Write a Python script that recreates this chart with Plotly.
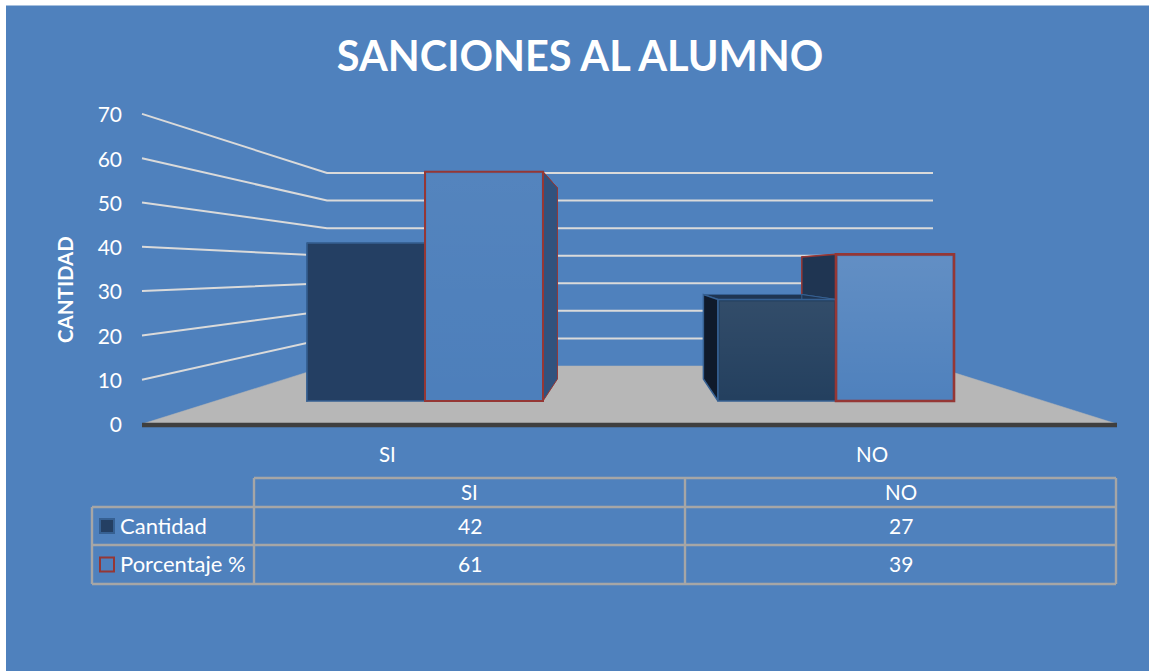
import plotly.graph_objects as go

categories = ["SI", "NO"]
cantidad = [42, 27]
porcentaje = [61, 39]
y_ticks = [0, 10, 20, 30, 40, 50, 60, 70]
title_text = "SANCIONES AL ALUMNO"
y_title = "CANTIDAD"
series_names = ["Cantidad", "Porcentaje %"]

W, H = 1149, 671
BG = "#4F81BD"
FONT = "Lato"
WHITE = "#FFFFFF"

# ---- scales (pixel geometry of the 3D box of the chart) ----
AXIS_ZERO, AXIS_UNIT = 424.0, 4.43      # left axis: pixel of 0, pixels per unit
BAR_ZERO, BAR_UNIT = 401.0, 3.76        # front plane of the bars
BOX_ZERO, BOX_UNIT = 379.0, 3.13        # back plane of the bars
WALL_ZERO, WALL_UNIT = 366.0, 2.757     # back wall
CAT_X0, CAT_STEP, BAR_W = 425.0, 411.0, 118.0
VANISH_X, DEPTH = 630.0, 0.834
WALL_L, WALL_R, FLOOR_L, FLOOR_R = 327.0, 933.0, 142.0, 1117.0


def py(pixel):
    return (AXIS_ZERO - pixel) / AXIS_UNIT


def back_x(x):
    return VANISH_X + (x - VANISH_X) * DEPTH


def face(xs, ys, color, line_color, line_w=1.0, name=""):
    return go.Scatter(x=xs, y=[py(v) for v in ys], mode="lines", fill="toself",
                      fillcolor=color, line=dict(color=line_color, width=line_w),
                      hoverinfo="skip", showlegend=False, name=name)


fig = go.Figure()

# floor
fig.add_trace(face([FLOOR_L, WALL_L, WALL_R, FLOOR_R, FLOOR_L],
                   [AXIS_ZERO, WALL_ZERO, WALL_ZERO, AXIS_ZERO, AXIS_ZERO],
                   "#B7B7B7", "#B7B7B7", 0.5, "floor"))

# gridlines on the left wall and back wall
gx, gy = [], []
for v in y_ticks[1:]:
    gx += [FLOOR_L, WALL_L, WALL_R, None]
    gy += [v, py(WALL_ZERO - WALL_UNIT * v), py(WALL_ZERO - WALL_UNIT * v), None]
fig.add_trace(go.Scatter(x=gx, y=gy, mode="lines", line=dict(color="#DADADA", width=2),
                         hoverinfo="skip", showlegend=False, name="grid"))

# front axis line
fig.add_trace(go.Scatter(x=[FLOOR_L, FLOOR_R], y=[-0.2, -0.2], mode="lines",
                         line=dict(color="#3F3F3F", width=4.5),
                         hoverinfo="skip", showlegend=False, name="axis"))

# side and top faces of the boxes, rear series first
series = [
    (porcentaje, 0, "#953735", "#1F3552", "#31527D", "#1F3552"),
    (cantidad, -1, "#366092", "#0F1A2B", "#1F3552", "#1F3552"),
]
for values, offset, edge, left_c, right_c, top_c in series:
    for i, v in enumerate(values):
        xl = CAT_X0 + CAT_STEP * i + offset * BAR_W
        xr = xl + BAR_W
        yf = BAR_ZERO - BAR_UNIT * v
        yb = BOX_ZERO - BOX_UNIT * v
        # top
        fig.add_trace(face([xl, back_x(xl), back_x(xr), xr, xl], [yf, yb, yb, yf, yf], top_c, edge))
        # left side
        fig.add_trace(face([xl, back_x(xl), back_x(xl), xl, xl],
                           [yf, yb, BOX_ZERO, BAR_ZERO, yf], left_c, edge, 1.5))
        # right side
        fig.add_trace(face([xr, back_x(xr), back_x(xr), xr, xr],
                           [yf, yb, BOX_ZERO, BAR_ZERO, yf], right_c, edge, 1.0))

# front faces as real bars
fig.add_trace(go.Bar(x=categories, y=cantidad, name=series_names[0], xaxis="x2", yaxis="y2",
                     marker=dict(color=["#243F63", "#24405F"], line=dict(color="#366092", width=1.5)),
                     showlegend=False))
fig.add_trace(go.Bar(x=categories, y=porcentaje, name=series_names[1], xaxis="x2", yaxis="y2",
                     marker=dict(color=["#4D7FBB", "#4F81BD"],
                                 line=dict(color="#953735", width=[2, 2.6])),
                     showlegend=False))

# soft sheen over the front faces (top of the face lighter than its foot)
sheen = [(cantidad, 1, -1, 0.065), (porcentaje, 0, 0, 0.04), (porcentaje, 1, 0, 0.11)]
for values, i, offset, alpha in sheen:
    xl = CAT_X0 + CAT_STEP * i + offset * BAR_W + 2
    xr = xl + BAR_W - 4
    yt = py(BAR_ZERO - BAR_UNIT * values[i] + 2)
    yb = py(BAR_ZERO - 2)
    fig.add_trace(go.Scatter(
        x=[xl, xr, xr, xl, xl], y=[yt, yt, yb, yb, yt], mode="lines", xaxis="x3", yaxis="y3",
        line=dict(width=0), fill="toself", hoverinfo="skip", showlegend=False,
        fillgradient=dict(type="vertical",
                          colorscale=[[0, "rgba(255,255,255,0)"], [1, f"rgba(255,255,255,{alpha})"]])))


def fx(px):
    return px / W


def fy(px):
    return 1 - px / H


def text(x, y, s, size=21, anchor="center", color=WHITE, bold=False, angle=0):
    fig.add_annotation(xref="paper", yref="paper", x=fx(x), y=fy(y), text=f"<b>{s}</b>" if bold else s,
                       showarrow=False, xanchor=anchor, yanchor="middle", textangle=angle,
                       font=dict(family=FONT, size=size, color=color))


# category labels below the axis
text(387, 454, categories[0], size=20.5)
text(872, 454, categories[1], size=20.5)
text(65, 290, y_title, size=20.5, bold=True, angle=-90)

# ---- data table ----
shapes = [dict(type="rect", xref="paper", yref="paper", x0=fx(6), x1=1, y0=0, y1=fy(5.5),
               fillcolor=BG, line=dict(width=0), layer="below")]
TX = [92, 254, 685, 1116]
TY = [478, 507, 545, 584]
GRID = dict(color="#A6A6A6", width=2.4)


def seg(x0, y0, x1, y1):
    shapes.append(dict(type="line", xref="paper", yref="paper", x0=fx(x0), x1=fx(x1),
                       y0=fy(y0), y1=fy(y1), line=GRID, layer="above"))


seg(TX[1], TY[0], TX[3], TY[0])
seg(TX[0], TY[1], TX[3], TY[1])
seg(TX[0], TY[2], TX[3], TY[2])
seg(TX[0], TY[3], TX[3], TY[3])
seg(TX[0], TY[1], TX[0], TY[3])
seg(TX[1], TY[0], TX[1], TY[3])
seg(TX[2], TY[0], TX[2], TY[3])
seg(TX[3], TY[0], TX[3], TY[3])

cols = [(TX[1] + TX[2]) / 2, (TX[2] + TX[3]) / 2]
rows = [(TY[1] + TY[2]) / 2 - 1, (TY[2] + TY[3]) / 2 - 1]
for c, cat in enumerate(categories):
    text(cols[c], (TY[0] + TY[1]) / 2 - 1, cat, size=20.5)
    text(cols[c], rows[0], str(cantidad[c]))
    text(cols[c], rows[1], str(porcentaje[c]))
text(118, rows[0], series_names[0], size=22, anchor="left")
text(118, rows[1], series_names[1], size=22, anchor="left")
keys = [("#243F63", "#366092"), (BG, "#953735")]
for r, (fill, edge) in enumerate(keys):
    shapes.append(dict(type="rect", xref="paper", yref="paper", x0=fx(100), x1=fx(114),
                       y0=fy(rows[r] + 8), y1=fy(rows[r] - 6), fillcolor=fill,
                       line=dict(color=edge, width=2), layer="above"))

fig.update_layout(
    width=W, height=H, autosize=False,
    margin=dict(l=0, r=0, t=0, b=0, pad=0),
    paper_bgcolor="#FFFFFF", plot_bgcolor="rgba(0,0,0,0)",
    showlegend=False, barmode="group", bargap=1 - 2 * BAR_W / CAT_STEP, bargroupgap=0,
    title=dict(text=f"<b>{title_text}</b>", x=580 / W, y=fy(56), xanchor="center", yanchor="middle",
               xref="paper", yref="paper", font=dict(family=FONT, size=41.5, color=WHITE)),
    shapes=shapes,
    xaxis=dict(range=[0, W], domain=[0, 1], visible=False, fixedrange=True),
    yaxis=dict(range=[py(H), py(0)], domain=[0, 1], tickmode="array", tickvals=y_ticks,
               ticktext=[str(t) for t in y_ticks], anchor="free", position=122 / W, side="left",
               showgrid=False, zeroline=False, showline=False, ticks="", fixedrange=True,
               ticklabelshift=1,
               tickfont=dict(family=FONT, size=21, color=WHITE)),
    xaxis2=dict(type="category", categoryorder="array", categoryarray=categories,
                range=[-CAT_X0 / CAT_STEP, (W - CAT_X0) / CAT_STEP], domain=[0, 1],
                overlaying="x", anchor="y2", visible=False, fixedrange=True),
    yaxis2=dict(range=[(BAR_ZERO - H) / BAR_UNIT, BAR_ZERO / BAR_UNIT], domain=[0, 1],
                overlaying="y", anchor="x2", visible=False, fixedrange=True),
    xaxis3=dict(range=[0, W], domain=[0, 1], overlaying="x", anchor="y3", visible=False, fixedrange=True),
    yaxis3=dict(range=[py(H), py(0)], domain=[0, 1], overlaying="y", anchor="x3", visible=False,
                fixedrange=True),
)

fig.write_html("out.html", config={"displayModeBar": False},
               post_script="document.body.style.margin='0';document.body.style.overflow='hidden';")
